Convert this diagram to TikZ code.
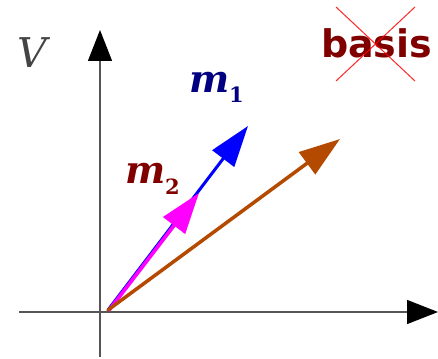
\documentclass[tikz,border=0pt]{standalone}
\usepackage{fontspec}
\usetikzlibrary{arrows.meta}
\newfontfamily\serifdv{DejaVu Serif}
\newfontfamily\sansdv{DejaVu Sans}
\definecolor{axisgray}{HTML}{555555}
\definecolor{labgray}{HTML}{444444}
\definecolor{navyc}{HTML}{000080}
\definecolor{maroonc}{HTML}{800000}
\definecolor{rustc}{HTML}{B44A00}
\definecolor{magc}{HTML}{FF00FF}
\definecolor{bluec}{HTML}{0000FF}
\tikzset{
  axisline/.style={draw=axisgray, line width=1.4pt, arrows={-{Triangle[length=31pt,width=24pt,color=black]}}},
  vecline/.style={line width=#1, line cap=round, -{Triangle[length=41pt,width=27pt]}},
  lab/.style={anchor=base west, inner sep=0pt, outer sep=0pt},
  crossline/.style={draw=red, line width=1pt, opacity=0.85}
}
\begin{document}
\begin{tikzpicture}[x=1pt,y=-1pt]
\useasboundingbox (0,0) rectangle (438,358);
% coordinates
\coordinate (xl) at (19,312);
\coordinate (xr) at (438,312);
\coordinate (yb) at (100,357);
\coordinate (yt) at (100,30);
\coordinate (O) at (108,310);
\coordinate (t1) at (248,126);
\coordinate (t2) at (199,193);
\coordinate (t3) at (340,139);
\coordinate (c1) at (336,7);
\coordinate (c2) at (415,81);
\coordinate (c3) at (415,7);
\coordinate (c4) at (336,81);
% axes
\draw[axisline] (xl) -- (xr);
\draw[axisline] (yb) -- (yt);
% vectors
\draw[vecline=3pt, bluec] (O) -- (t1);
\draw[vecline=3.6pt, magc] ([xshift=1.2pt]O) -- (t2);
\draw[vecline=3.5pt, rustc] (O) -- (t3);
% labels
\node[lab, text=labgray, font=\serifdv\itshape\fontsize{41}{41}\selectfont] (V) at (17,68) {V};
\node[lab, text=navyc, font=\serifdv\fontsize{38}{38}\selectfont] (m1) at (189,93)
  {{\bfseries\itshape m}\raisebox{-10pt}{\bfseries\fontsize{21}{21}\selectfont 1}};
\node[lab, text=maroonc, font=\serifdv\fontsize{38}{38}\selectfont] (m2) at (125,183)
  {{\bfseries\itshape m}\raisebox{-11pt}{\bfseries\fontsize{21}{21}\selectfont 2}};
\node[lab, text=maroonc, font=\sansdv\bfseries\fontsize{38}{38}\selectfont] (basis) at (321,58) {basis};
% cross
\draw[crossline] (c1) -- (c2);
\draw[crossline] (c3) -- (c4);
\end{tikzpicture}
\end{document}
